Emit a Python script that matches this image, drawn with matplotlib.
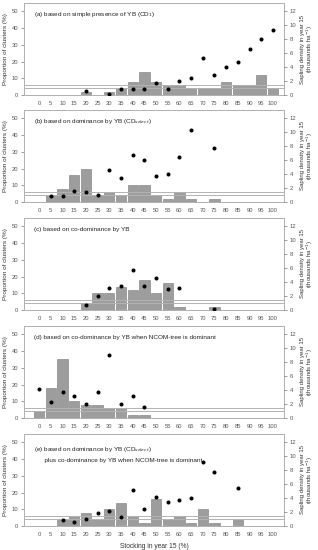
import numpy as np
import matplotlib
matplotlib.use("Agg")
import matplotlib.pyplot as plt

plt.rcParams['font.family'] = ['Liberation Sans', 'DejaVu Sans']

# Stocking classes (%)
stocking = [0, 5, 10, 15, 20, 25, 30, 35, 40, 45, 50, 55, 60, 65, 70, 75, 80, 85, 90, 95, 100]

# Proportion of clusters (%) per stocking class
bars_a = [0, 0, 0, 0, 2, 0, 2, 4, 8, 14, 8, 6, 6, 4, 4, 4, 8, 6, 6, 12, 4]
bars_b = [0, 4, 8, 16, 20, 4, 6, 4, 10, 10, 4, 2, 6, 2, 0, 2, 0, 0, 0, 0, 0]
bars_c = [0, 0, 0, 0, 4, 10, 10, 14, 12, 18, 10, 16, 2, 0, 0, 2, 0, 0, 0, 0, 0]
bars_d = [4, 18, 35, 10, 8, 8, 6, 6, 2, 2, 0, 0, 0, 0, 0, 0, 0, 0, 0, 0, 0]
bars_e = [0, 0, 4, 6, 8, 4, 10, 14, 6, 2, 16, 4, 6, 2, 10, 2, 0, 4, 0, 0, 0]

# Sapling density in year 15 (thousands / ha)
N = None
dens_a = [N, N, N, N, 0.6, N, 0.1, 0.8, 0.9, 0.9, 1.7, 0.8, 2.0, 2.5, 5.3, 2.8, 4.0, 4.7, 6.6, 8.0, 9.3]
dens_b = [N, 0.8, 0.85, 1.6, 1.4, 1.0, 4.6, 3.4, 6.8, 6.0, 3.7, 4.0, 6.4, 10.4, N, 7.7, N, N, N, N, N]
dens_c = [N, N, N, N, 0.7, 2.0, 3.1, 3.4, 5.7, 3.4, 4.6, 3.0, 3.2, N, N, 0.1, N, N, N, N, N]
dens_d = [4.1, 2.3, 3.7, 3.1, 2.0, 3.8, 9.0, 2.0, 3.2, 1.6, N, N, N, N, N, N, N, N, N, N, N]
dens_e = [N, N, 0.8, 0.6, 1.0, 1.8, 2.2, 1.3, 5.1, 2.5, 4.1, 3.4, 3.7, 4.0, 9.2, 7.7, N, 5.5, N, N, N]

# Reference density thresholds (thousands / ha)
thresholds = [1.0, 1.5]

panel_titles = [
    "(a) based on simple presence of YB (CD$_{1}$)",
    "(b) based on dominance by YB (CD$_{select}$)",
    "(c) based on co-dominance by YB",
    "(d) based on co-dominance by YB when NCOM-tree is dominant",
    "(e) based on dominance by YB (CD$_{select}$)\n      plus co-dominance by YB when NCOM-tree is dominant",
]

bars_all = [bars_a, bars_b, bars_c, bars_d, bars_e]
dens_all = [dens_a, dens_b, dens_c, dens_d, dens_e]

W, H = 318, 550
tops = [3, 110, 218, 326, 434]
ax_h = 92
gray = '#555555'

fig = plt.figure(figsize=(W / 100, H / 100), dpi=100)
x = np.arange(len(stocking))

for i, (bars, dens, title) in enumerate(zip(bars_all, dens_all, panel_titles)):
    ax = fig.add_axes([24 / W, 1 - (tops[i] + ax_h) / H, 260 / W, ax_h / H])
    ax.bar(x, bars, width=0.88, color='#9d9d9d', edgecolor='#7a7a7a', linewidth=0.4, zorder=2)
    ax.set_xlim(-1.3, 20.95)
    ax.set_ylim(0, 55)
    ax.set_yticks([0, 10, 20, 30, 40, 50])
    ax.set_xticks(x)
    ax.set_xticklabels([str(s) for s in stocking])
    ax.tick_params(axis='x', length=0, labelsize=4.2, colors=gray, pad=4)
    ax.tick_params(axis='y', length=2, width=0.4, labelsize=4.2, colors=gray, pad=2)
    for sp in ax.spines.values():
        sp.set_color('#b0b0b0')
        sp.set_linewidth(0.7)
    ax.set_ylabel("Proportion of clusters (%)", fontsize=4.6, color='#333333')
    ax.yaxis.set_label_coords(-0.062, 0.5)

    ax2 = ax.twinx()
    ax2.set_ylim(0, 13.2)
    ax2.set_yticks([0, 2, 4, 6, 8, 10, 12])
    ax2.tick_params(axis='y', length=2, width=0.4, labelsize=4.2, colors=gray, pad=2)
    for t in thresholds:
        ax2.axhline(t, color='#b3b3b3', linewidth=0.7, zorder=1)
    d = np.array([np.nan if v is None else v for v in dens], dtype=float)
    ax2.plot(x, d, linestyle='none', marker='o', markersize=1.9, color='black', zorder=3)
    ax2.set_ylabel("Sapling density in year 15\n(thousands ha$^{-1}$)", fontsize=4.3,
                   color='#333333', linespacing=1.0)
    ax2.yaxis.set_label_coords(1.06, 0.5)
    for sp in ax2.spines.values():
        sp.set_visible(False)

    ax.text(0.04, 0.87 if i < 4 else 0.88, title, transform=ax.transAxes, fontsize=4.6,
            color='#222222', va='top' if i == 4 else 'center', linespacing=1.9)

    if i == 4:
        ax.set_xlabel("Stocking in year 15 (%)", fontsize=4.8, color='#333333', labelpad=5)

fig.savefig("out.png", dpi=100)
